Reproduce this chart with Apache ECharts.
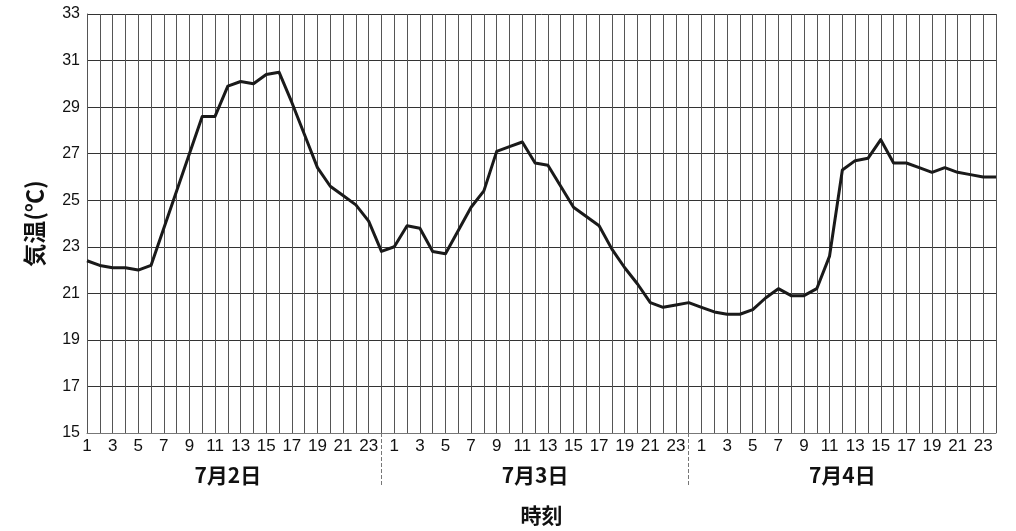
<!DOCTYPE html>
<html>
<head>
<meta charset="utf-8">
<script src="https://cdn.jsdelivr.net/npm/echarts@6/dist/echarts.min.js"></script>
<style>
html,body{margin:0;padding:0;background:#fff;}
#c{width:1016px;height:531px;}
</style>
</head>
<body>
<div id="c"></div>
<script>
// Tick labels (hour of day) and day labels
const hours = [1,2,3,4,5,6,7,8,9,10,11,12,13,14,15,16,17,18,19,20,21,22,23,24];
const days = ['7月2日','7月3日','7月4日'];
// Temperature (°C) per hour
const day1Temps = [22.4,22.2,22.1,22.1,22.0,22.2,23.8,25.4,27.0,28.6,28.6,29.9,30.1,30.0,30.4,30.5,29.2,27.8,26.4,25.6,25.2,24.8,24.1,22.8];
const day2Temps = [23.0,23.9,23.8,22.8,22.7,23.7,24.7,25.4,27.1,27.3,27.5,26.6,26.5,25.6,24.7,24.3,23.9,22.9,22.1,21.4,20.6,20.4,20.5,20.6];
const day3Temps = [20.4,20.2,20.1,20.1,20.3,20.8,21.2,20.9,20.9,21.2,22.6,26.3,26.7,26.8,27.6,26.6,26.6,26.4,26.2,26.4,26.2,26.1,26.0,26.0];
const yTicks = {min: 15, max: 33, interval: 2};
const yName = '気温(℃)';
const xName = '時刻';

const categories = [];
days.forEach((d, di) => hours.forEach(h => categories.push(d + ' ' + h)));
const temps = day1Temps.concat(day2Temps, day3Temps);
const perDay = hours.length;

const chart = echarts.init(document.getElementById('c'), null, {renderer: 'canvas'});
chart.setOption({
  animation: false,
  backgroundColor: '#ffffff',
  grid: {left: 87, right: 20, top: 14, bottom: 96, containLabel: false},
  xAxis: [
    {
      type: 'category',
      data: categories,
      boundaryGap: false,
      name: xName,
      nameLocation: 'middle',
      nameGap: 72,
      nameTextStyle: {fontFamily: 'Noto Sans CJK JP', fontWeight: 'bold', fontSize: 21, color: '#111'},
      axisLine: {show: true, lineStyle: {color: '#777', width: 1}},
      axisTick: {
        show: true,
        alignWithLabel: true,
        interval: (i) => i % perDay === perDay - 1 && i < categories.length - 1,
        length: 53,
        lineStyle: {color: '#777', type: 'dashed', width: 1}
      },
      splitLine: {show: true, interval: 0, lineStyle: {color: '#555', width: 1}},
      axisLabel: {
        interval: (i) => i % 2 === 0,
        margin: 5,
        formatter: (v, i) => String(hours[i % perDay]),
        fontFamily: 'Liberation Sans Narrow, Liberation Sans, Arial',
        fontSize: 17,
        color: '#111'
      }
    },
    {
      type: 'category',
      data: categories,
      boundaryGap: false,
      position: 'bottom',
      axisLine: {show: false},
      axisTick: {show: false},
      splitLine: {show: false},
      axisLabel: {
        interval: (i) => i % perDay === 11,
        margin: 32,
        formatter: (v, i) => days[Math.floor(i / perDay)],
        fontFamily: 'Noto Sans CJK JP',
        fontWeight: 'bold',
        fontSize: 21,
        color: '#111'
      }
    }
  ],
  yAxis: {
    type: 'value',
    min: yTicks.min,
    max: yTicks.max,
    interval: yTicks.interval,
    name: yName,
    nameLocation: 'middle',
    nameGap: 41,
    nameRotate: 90,
    nameTextStyle: {fontFamily: 'Noto Sans CJK JP', fontWeight: 'bold', fontSize: 23, color: '#111'},
    axisLine: {show: true, lineStyle: {color: '#555', width: 1}},
    axisTick: {show: false},
    splitLine: {show: true, lineStyle: {color: '#333', width: 1}},
    axisLabel: {margin: 7, fontFamily: 'Liberation Sans, Arial', fontSize: 16, color: '#111'}
  },
  series: [{
    type: 'line',
    xAxisIndex: 0,
    data: temps,
    showSymbol: false,
    symbol: 'none',
    smooth: false,
    lineStyle: {color: '#1a1a1a', width: 3, join: 'round'},
    z: 5
  }]
});
</script>
</body>
</html>
